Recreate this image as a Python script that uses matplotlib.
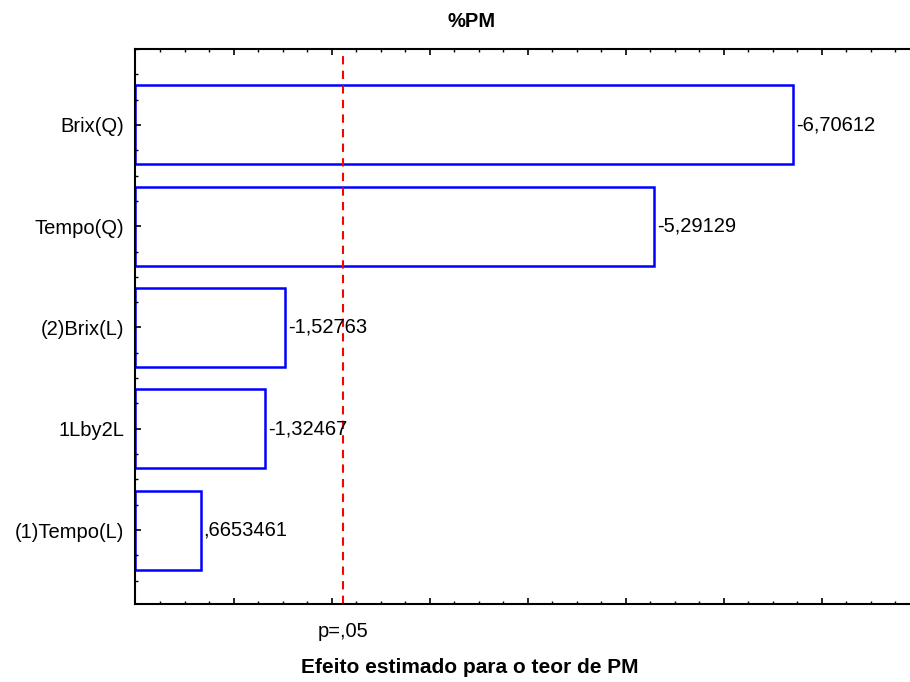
import numpy as np
import matplotlib.pyplot as plt
from matplotlib.ticker import MultipleLocator, NullFormatter

plt.rcParams['font.family'] = ['Liberation Sans', 'DejaVu Sans']

# effects, bottom to top as drawn
terms = ["(1)Tempo(L)", "1Lby2L", "(2)Brix(L)", "Tempo(Q)", "Brix(Q)"]
effects = [0.6653461, -1.32467, -1.52763, -5.29129, -6.70612]
effect_labels = [",6653461", "-1,32467", "-1,52763", "-5,29129", "-6,70612"]
p_crit = 2.117

fig = plt.figure(figsize=(9.1, 6.82), dpi=100)
ax = fig.add_axes([0.1489, 0.1144, 0.8511, 0.8138])

y = np.arange(len(terms))
ax.barh(y, np.abs(effects), height=0.78, color='white',
        edgecolor='#0000ff', linewidth=1.8)

for yi, v, lab in zip(y, effects, effect_labels):
    ax.annotate(lab, (abs(v), yi), xytext=(2, 0), textcoords='offset points',
                va='center', ha='left', fontsize=14.5)

ax.axvline(p_crit, color='#ff0000', linestyle=(0, (4, 3)), linewidth=1.5)
ax.text(p_crit, -0.05, "p=,05", transform=ax.get_xaxis_transform(),
        ha='center', va='center', fontsize=14.5)

ax.set_xlim(0, 7.9)
ax.set_ylim(-0.73, 4.75)
ax.set_yticks(y)
ax.set_yticklabels(terms, fontsize=14.5)
ax.yaxis.set_minor_locator(MultipleLocator(0.25))
ax.xaxis.set_major_locator(MultipleLocator(1))
ax.xaxis.set_minor_locator(MultipleLocator(0.25))
ax.xaxis.set_major_formatter(NullFormatter())

ax.tick_params(axis='x', which='both', direction='in', top=True, bottom=True)
ax.tick_params(axis='x', which='major', length=4, width=1.2)
ax.tick_params(axis='x', which='minor', length=2, width=1)
ax.tick_params(axis='y', which='both', direction='in', left=True, right=False, pad=8)
ax.tick_params(axis='y', which='major', length=4, width=1.2)
ax.tick_params(axis='y', which='minor', length=2, width=1)

ax.spines['right'].set_visible(False)
for s in ['left', 'top', 'bottom']:
    ax.spines[s].set_linewidth(1.5)

fig.text(0.518, 0.969, "%PM", ha='center', va='center', fontsize=14.5, fontweight='bold')
fig.text(0.516, 0.021, "Efeito estimado para o teor de PM", ha='center', va='center',
         fontsize=15, fontweight='bold')

fig.savefig("out.png", dpi=100)
